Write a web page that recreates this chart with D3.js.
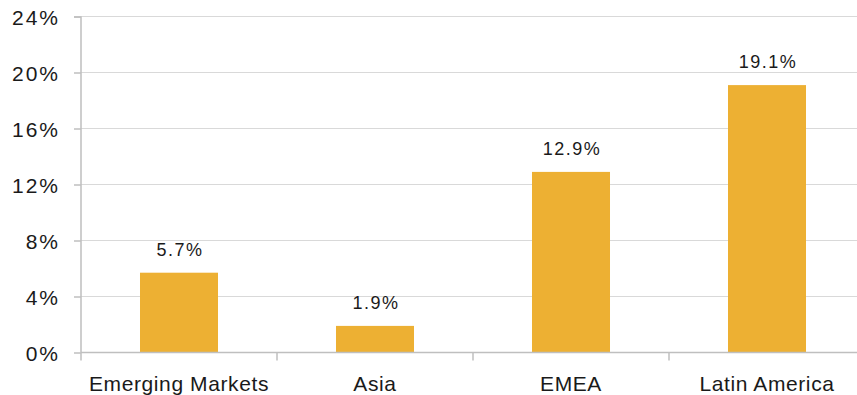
<!DOCTYPE html>
<html>
<head>
<meta charset="utf-8">
<script src="https://cdn.jsdelivr.net/npm/d3@7/dist/d3.min.js"></script>
<style>
  html, body { margin: 0; padding: 0; background: #fff; }
  svg { display: block; font-family: "Liberation Sans", Arial, Helvetica, sans-serif; }
</style>
</head>
<body>
<svg id="chart" width="857" height="395"></svg>
<script>
// Regions and their values (percent)
const regions = ["Emerging Markets", "Asia", "EMEA", "Latin America"];
const values = [5.7, 1.9, 12.9, 19.1];
const yTicks = [0, 4, 8, 12, 16, 20, 24];

const svg = d3.select("#chart");
const margin = { left: 81, top: 16.5 };
const plotW = 784;   // four bands of 196px; the last one runs past the right edge
const plotH = 336;

const x = d3.scaleBand().domain(regions).range([0, plotW]).paddingInner(0.602).paddingOuter(0.301);
const y = d3.scaleLinear().domain([0, 24]).range([plotH, 0]);

const g = svg.append("g").attr("transform", `translate(${margin.left},${margin.top})`);

// Horizontal gridlines
g.append("g").selectAll("line").data(yTicks.filter(d => d > 0)).join("line")
  .attr("x1", 0).attr("x2", plotW)
  .attr("y1", d => y(d)).attr("y2", d => y(d))
  .attr("stroke", "#d9d9d9").attr("stroke-width", 1);

// Bars
g.append("g").selectAll("rect").data(regions).join("rect")
  .attr("x", d => x(d))
  .attr("width", x.bandwidth())
  .attr("y", (d, i) => y(values[i]))
  .attr("height", (d, i) => y(0) - y(values[i]))
  .attr("fill", "#edb033");

// Value labels above bars
g.append("g").selectAll("text").data(regions).join("text")
  .attr("x", d => x(d) + x.bandwidth() / 2 + 1)
  .attr("y", (d, i) => y(values[i]) - 17)
  .attr("text-anchor", "middle")
  .attr("font-size", 18)
  .attr("letter-spacing", 1.5)
  .attr("fill", "#1a1a1a")
  .text((d, i) => values[i].toFixed(1) + "%");

// Y axis
const yAxis = d3.axisLeft(y).tickValues(yTicks).tickSize(7).tickPadding(14)
  .tickFormat(d => d + "%");
const ya = g.append("g").call(yAxis);
ya.select(".domain").attr("stroke", "#bfbfbf").attr("stroke-width", 1.5)
  .attr("d", `M-7,0.5H0V${plotH}`);
ya.selectAll(".tick line").attr("stroke", "#bfbfbf").attr("stroke-width", 1.5);
ya.selectAll(".tick text").attr("font-size", 21).attr("fill", "#1a1a1a")
  .attr("letter-spacing", 2)
  .attr("dy", "0.36em")
  .attr("font-family", "'Liberation Sans', Arial, sans-serif");

// X axis with tick marks at band boundaries
const xa = g.append("g").attr("transform", `translate(0,${plotH})`);
xa.append("line").attr("x1", 0).attr("x2", plotW).attr("y1", 0).attr("y2", 0)
  .attr("stroke", "#bfbfbf").attr("stroke-width", 1.5);
const step = x.step();
xa.selectAll("line.sep").data(d3.range(0, regions.length + 1)).join("line")
  .attr("class", "sep")
  .attr("x1", i => i * step).attr("x2", i => i * step)
  .attr("y1", 0).attr("y2", 8)
  .attr("stroke", "#bfbfbf").attr("stroke-width", 1.5);
xa.selectAll("text").data(regions).join("text")
  .attr("x", d => x(d) + x.bandwidth() / 2)
  .attr("y", 38)
  .attr("text-anchor", "middle")
  .attr("font-size", 21)
  .attr("letter-spacing", 0.6)
  .attr("fill", "#1a1a1a")
  .text(d => d);
</script>
</body>
</html>
